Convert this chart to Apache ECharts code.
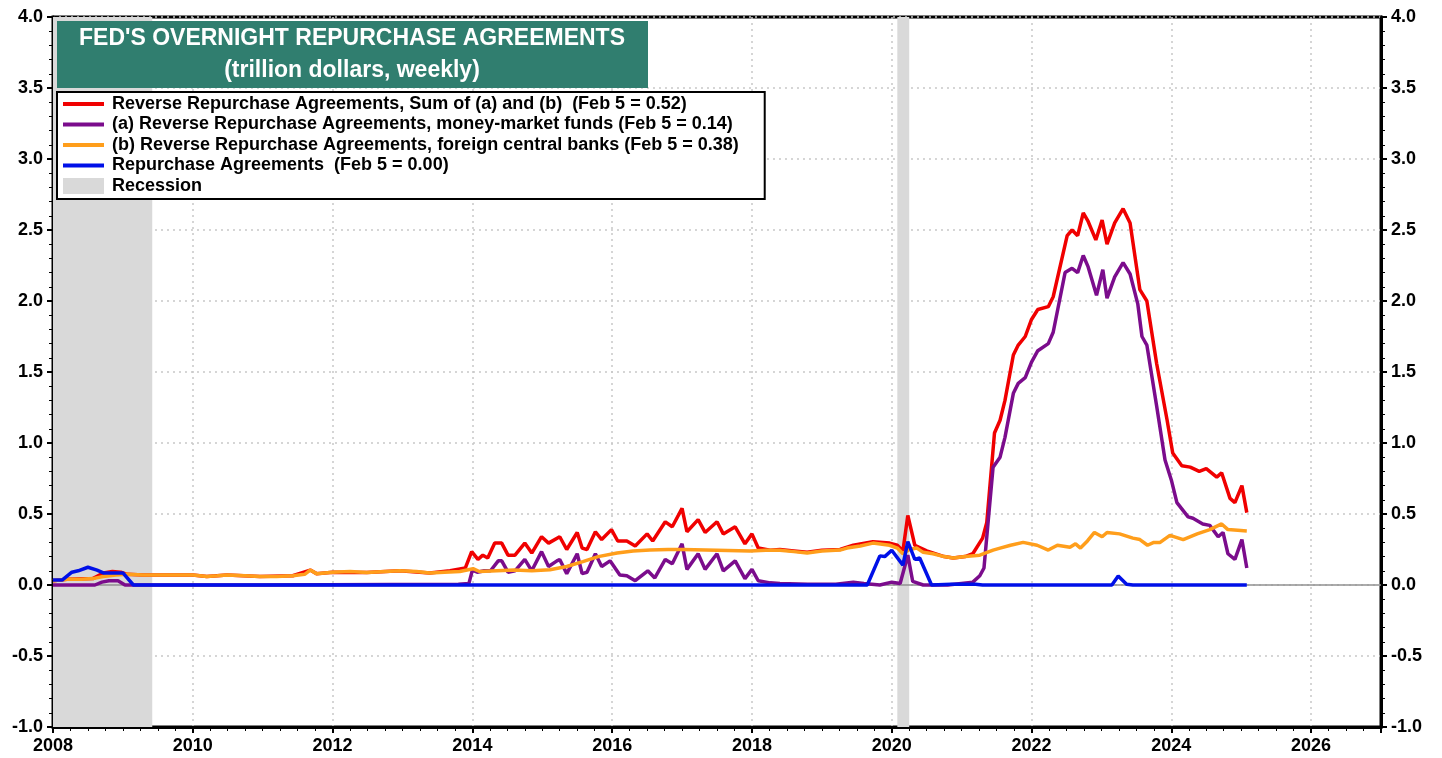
<!DOCTYPE html>
<html>
<head>
<meta charset="utf-8">
<script src="https://cdn.jsdelivr.net/npm/echarts@6/dist/echarts.min.js"></script>
<style>
  html, body { margin: 0; padding: 0; background: #fff; }
  #chart { width: 1442px; height: 758px; }
</style>
</head>
<body>
<div id="chart"></div>
<script>
// values, [decimal year, trillion $]
const sumRrp = [
    [2008.00, 0.03], [2008.20, 0.04], [2008.57, 0.045], [2008.72, 0.085], [2008.85, 0.095], [2008.97, 0.09],
    [2009.06, 0.075], [2009.29, 0.07], [2010.00, 0.07], [2010.20, 0.06], [2010.49, 0.07], [2010.96, 0.06],
    [2011.43, 0.065], [2011.68, 0.105], [2011.77, 0.08], [2012.00, 0.09], [2012.49, 0.088], [2012.96, 0.1],
    [2013.39, 0.085], [2013.68, 0.1], [2013.90, 0.12], [2013.99, 0.235], [2014.08, 0.18], [2014.15, 0.21],
    [2014.22, 0.19], [2014.32, 0.295], [2014.42, 0.295], [2014.51, 0.21], [2014.61, 0.21], [2014.75, 0.295],
    [2014.85, 0.225], [2014.99, 0.34], [2015.09, 0.295], [2015.25, 0.34], [2015.35, 0.25], [2015.50, 0.37],
    [2015.57, 0.26], [2015.64, 0.25], [2015.76, 0.375], [2015.85, 0.32], [2015.99, 0.39], [2016.08, 0.31],
    [2016.21, 0.31], [2016.33, 0.275], [2016.50, 0.36], [2016.58, 0.31], [2016.76, 0.445], [2016.86, 0.41],
    [2017.00, 0.54], [2017.07, 0.375], [2017.23, 0.46], [2017.33, 0.37], [2017.50, 0.445], [2017.59, 0.36],
    [2017.76, 0.41], [2017.90, 0.29], [2018.00, 0.36], [2018.09, 0.26], [2018.26, 0.245], [2018.40, 0.25],
    [2018.60, 0.24], [2018.79, 0.23], [2019.00, 0.245], [2019.26, 0.25], [2019.45, 0.28], [2019.73, 0.305],
    [2019.97, 0.295], [2020.08, 0.28], [2020.16, 0.24], [2020.23, 0.49], [2020.33, 0.28], [2020.50, 0.24],
    [2020.75, 0.2], [2020.88, 0.19], [2021.05, 0.2], [2021.16, 0.22], [2021.30, 0.33], [2021.36, 0.44],
    [2021.47, 1.07], [2021.55, 1.16], [2021.62, 1.30], [2021.74, 1.62], [2021.81, 1.69], [2021.91, 1.75],
    [2022.00, 1.87], [2022.09, 1.94], [2022.24, 1.96], [2022.31, 2.03], [2022.51, 2.46], [2022.58, 2.50],
    [2022.66, 2.46], [2022.74, 2.62], [2022.81, 2.56], [2022.92, 2.43], [2023.01, 2.57], [2023.08, 2.40],
    [2023.19, 2.55], [2023.31, 2.65], [2023.41, 2.55], [2023.55, 2.08], [2023.65, 2.0], [2023.79, 1.56],
    [2023.94, 1.16], [2024.02, 0.93], [2024.15, 0.84], [2024.27, 0.83], [2024.40, 0.80], [2024.50, 0.82],
    [2024.65, 0.76], [2024.72, 0.79], [2024.84, 0.61], [2024.91, 0.58], [2025.01, 0.70], [2025.08, 0.51]
];

const moneyFunds = [
    [2008.00, 0], [2008.60, 0], [2008.70, 0.02], [2008.80, 0.03], [2008.93, 0.03], [2009.03, 0],
    [2011.00, 0], [2013.80, 0.005], [2013.95, 0.01], [2014.00, 0.105], [2014.07, 0.09], [2014.17, 0.1],
    [2014.26, 0.1], [2014.37, 0.17], [2014.42, 0.17], [2014.51, 0.09], [2014.61, 0.1], [2014.75, 0.18],
    [2014.85, 0.1], [2014.99, 0.235], [2015.09, 0.13], [2015.21, 0.17], [2015.25, 0.18], [2015.35, 0.08],
    [2015.50, 0.22], [2015.57, 0.08], [2015.64, 0.09], [2015.76, 0.22], [2015.85, 0.13], [2015.97, 0.17],
    [2016.11, 0.07], [2016.21, 0.065], [2016.33, 0.03], [2016.51, 0.1], [2016.61, 0.05], [2016.76, 0.18],
    [2016.86, 0.15], [2017.00, 0.29], [2017.07, 0.11], [2017.23, 0.22], [2017.33, 0.11], [2017.50, 0.22],
    [2017.59, 0.10], [2017.76, 0.17], [2017.90, 0.045], [2018.00, 0.11], [2018.09, 0.03], [2018.26, 0.015],
    [2018.40, 0.01], [2018.80, 0.005], [2019.20, 0.005], [2019.45, 0.02], [2019.60, 0.01], [2019.83, 0.0],
    [2020.00, 0.02], [2020.12, 0.01], [2020.23, 0.21], [2020.30, 0.025], [2020.45, 0], [2020.80, 0],
    [2021.16, 0.02], [2021.26, 0.065], [2021.32, 0.12], [2021.38, 0.45], [2021.45, 0.83], [2021.55, 0.9],
    [2021.62, 1.04], [2021.74, 1.35], [2021.81, 1.42], [2021.91, 1.46], [2022.00, 1.57], [2022.09, 1.65],
    [2022.24, 1.70], [2022.31, 1.78], [2022.48, 2.2], [2022.58, 2.23], [2022.66, 2.2], [2022.74, 2.32],
    [2022.81, 2.24], [2022.93, 2.04], [2023.02, 2.22], [2023.08, 2.02], [2023.19, 2.17], [2023.31, 2.27],
    [2023.41, 2.19], [2023.52, 1.98], [2023.58, 1.75], [2023.65, 1.69], [2023.79, 1.26], [2023.91, 0.88],
    [2024.00, 0.74], [2024.08, 0.58], [2024.24, 0.48], [2024.31, 0.47], [2024.45, 0.43], [2024.55, 0.42],
    [2024.67, 0.34], [2024.74, 0.37], [2024.81, 0.22], [2024.91, 0.18], [2025.01, 0.32], [2025.08, 0.12]
];

const foreignBanks = [
    [2008.00, 0.03], [2008.10, 0.035], [2008.20, 0.04], [2008.40, 0.04], [2008.57, 0.045], [2008.72, 0.06],
    [2008.90, 0.07], [2009.06, 0.075], [2009.29, 0.07], [2009.60, 0.07], [2010.00, 0.07], [2010.20, 0.06],
    [2010.35, 0.065], [2010.49, 0.07], [2010.75, 0.065], [2010.96, 0.06], [2011.20, 0.06], [2011.43, 0.065],
    [2011.60, 0.075], [2011.68, 0.105], [2011.77, 0.08], [2012.00, 0.09], [2012.25, 0.095], [2012.49, 0.088],
    [2012.75, 0.095], [2012.96, 0.1], [2013.20, 0.095], [2013.39, 0.085], [2013.60, 0.09], [2013.82, 0.095],
    [2014.01, 0.115], [2014.10, 0.095], [2014.35, 0.1], [2014.60, 0.105], [2014.85, 0.10], [2015.11, 0.108],
    [2015.35, 0.13], [2015.58, 0.165], [2015.80, 0.2], [2016.07, 0.225], [2016.30, 0.24], [2016.54, 0.246],
    [2016.80, 0.25], [2017.01, 0.25], [2017.50, 0.245], [2017.97, 0.24], [2018.20, 0.245], [2018.40, 0.245],
    [2018.60, 0.235], [2018.79, 0.225], [2019.00, 0.24], [2019.26, 0.246], [2019.36, 0.26], [2019.55, 0.275],
    [2019.73, 0.295], [2019.97, 0.28], [2020.08, 0.26], [2020.16, 0.22], [2020.25, 0.25], [2020.36, 0.26],
    [2020.45, 0.23], [2020.59, 0.22], [2020.75, 0.2], [2020.88, 0.19], [2021.05, 0.2], [2021.26, 0.21],
    [2021.45, 0.246], [2021.55, 0.26], [2021.70, 0.28], [2021.88, 0.30], [2022.08, 0.28], [2022.24, 0.246],
    [2022.37, 0.28], [2022.55, 0.266], [2022.63, 0.29], [2022.70, 0.26], [2022.80, 0.31], [2022.90, 0.37],
    [2023.01, 0.34], [2023.08, 0.37], [2023.26, 0.36], [2023.45, 0.33], [2023.55, 0.32], [2023.66, 0.28],
    [2023.75, 0.30], [2023.84, 0.30], [2023.98, 0.35], [2024.17, 0.32], [2024.37, 0.36], [2024.55, 0.39],
    [2024.72, 0.43], [2024.81, 0.39], [2024.95, 0.385], [2025.08, 0.38]
];

const repos = [
    [2008.00, 0.035], [2008.13, 0.035], [2008.27, 0.09], [2008.36, 0.1], [2008.50, 0.125], [2008.63, 0.105],
    [2008.72, 0.085], [2009.00, 0.085], [2009.15, 0], [2014.00, 0], [2019.65, 0], [2019.83, 0.205],
    [2019.90, 0.2], [2020.00, 0.245], [2020.16, 0.14], [2020.23, 0.305], [2020.33, 0.18], [2020.40, 0.19],
    [2020.57, 0], [2020.85, 0.005], [2021.20, 0.005], [2021.30, 0], [2023.15, 0], [2023.24, 0.063],
    [2023.36, 0.005], [2023.45, 0], [2025.08, 0]
];

const recessions = [[2007.92, 2009.42], [2020.08, 2020.25]];

const seriesNames = [
    'Reverse Repurchase Agreements, Sum of (a) and (b)  (Feb 5 = 0.52)',
    '(a) Reverse Repurchase Agreements, money-market funds (Feb 5 = 0.14)',
    '(b) Reverse Repurchase Agreements, foreign central banks (Feb 5 = 0.38)',
    'Repurchase Agreements  (Feb 5 = 0.00)',
    'Recession'
];
const seriesColors = ['#f00000', '#7b0c8c', '#ff9e1b', '#0010e8', '#d9d9d9'];

const chart = echarts.init(document.getElementById('chart'));

const font = 'Liberation Sans, Arial, sans-serif';
const lineIcon = 'path://M0 0H41V4H0Z';

function lineSeries(idx, data) {
    return {
        name: seriesNames[idx],
        type: 'line',
        data: data,
        color: seriesColors[idx],
        showSymbol: false,
        symbol: 'none',
        lineStyle: { width: 3.5, color: seriesColors[idx] },
        z: 3,
        animation: false
    };
}

function yAxis(pos) {
    return {
        type: 'value',
        position: pos,
        min: -1,
        max: 4,
        interval: 0.5,
        axisLine: { show: true, lineStyle: { color: '#000', width: 3 } },
        axisTick: { show: true, length: 6, lineStyle: { color: '#000', width: 2 } },
        minorTick: { show: true, splitNumber: 5, length: 4, lineStyle: { color: '#000', width: 1 } },
        axisLabel: {
            color: '#000', fontWeight: 'bold', fontSize: 18, fontFamily: font, margin: 10,
            formatter: v => v.toFixed(1)
        },
        splitLine: { show: pos === 'left', lineStyle: { color: '#c8c8c8', type: [2, 4], width: 1.5 } }
    };
}

const option = {
    backgroundColor: '#fff',
    animation: false,
    grid: {
        left: 53, right: 61, top: 17, bottom: 31,
        show: true, borderColor: '#000', borderWidth: 3, backgroundColor: 'transparent'
    },
    graphic: [
        {
            type: 'group', left: 57, top: 21, z: 50,
            children: [
                { type: 'rect', z: 50, shape: { x: 0, y: 0, width: 591, height: 67 }, style: { fill: '#307e6f' } },
                {
                    type: 'text', z: 51, x: 295, y: 18,
                    style: {
                        text: "FED'S OVERNIGHT REPURCHASE AGREEMENTS", fill: '#fff',
                        font: 'bold 23px ' + font, align: 'center', verticalAlign: 'middle'
                    }
                },
                {
                    type: 'text', z: 51, x: 295, y: 50,
                    style: {
                        text: '(trillion dollars, weekly)', fill: '#fff',
                        font: 'bold 23px ' + font, align: 'center', verticalAlign: 'middle'
                    }
                }
            ]
        }
    ],
    legend: {
        orient: 'vertical',
        left: 57,
        top: 92,
        z: 50,
        padding: [3, 26, 4, 6],
        itemGap: 2.5,
        itemWidth: 41,
        itemHeight: 16,
        backgroundColor: '#fff',
        borderColor: '#000',
        borderWidth: 2,
        selectedMode: false,
        itemStyle: { borderWidth: 0 },
        textStyle: { color: '#000', fontWeight: 'bold', fontSize: 18, fontFamily: font, padding: [0, 0, 0, 3] },
        data: seriesNames.map((n, i) => ({ name: n, icon: i < 4 ? lineIcon : 'rect' }))
    },
    xAxis: {
        type: 'value',
        min: 2008,
        max: 2027,
        interval: 2,
        axisLine: { show: true, onZero: false, lineStyle: { color: '#000', width: 3 } },
        axisTick: { show: true, length: 6, lineStyle: { color: '#000', width: 2 } },
        minorTick: { show: true, splitNumber: 8, length: 4, lineStyle: { color: '#000', width: 1 } },
        axisLabel: {
            color: '#000', fontWeight: 'bold', fontSize: 18, fontFamily: font, margin: 10,
            showMaxLabel: false,
            formatter: v => String(v)
        },
        splitLine: { show: true, lineStyle: { color: '#c8c8c8', type: [2, 4], width: 1.5 } }
    },
    yAxis: [yAxis('left'), yAxis('right')],
    series: [
        {
            name: seriesNames[4],
            type: 'line',
            data: [],
            color: seriesColors[4],
            z: 1,
            markArea: {
                silent: true,
                z: 1,
                itemStyle: { color: seriesColors[4], opacity: 1 },
                data: recessions.map(r => [{ xAxis: r[0] }, { xAxis: r[1] }])
            },
            markLine: {
                silent: true,
                z: 2,
                symbol: 'none',
                label: { show: false },
                lineStyle: { color: '#909090', width: 1.5, type: 'solid' },
                data: [{ yAxis: 0 }]
            }
        },
        lineSeries(0, sumRrp),
        lineSeries(1, moneyFunds),
        lineSeries(2, foreignBanks),
        lineSeries(3, repos)
    ]
};

chart.setOption(option);
</script>
</body>
</html>
